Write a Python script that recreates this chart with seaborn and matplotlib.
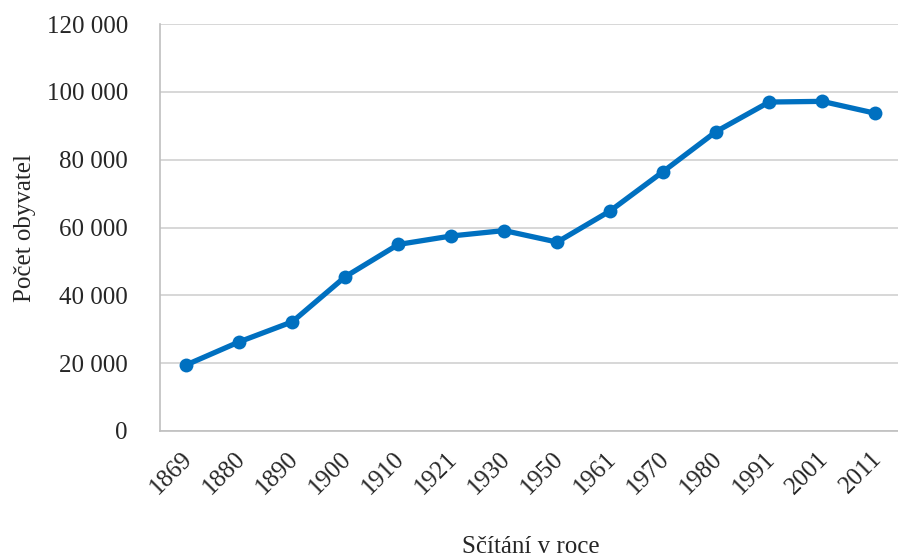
import pandas as pd
import matplotlib.pyplot as plt
import matplotlib.ticker as mticker
import matplotlib.transforms as mtransforms
import seaborn as sns

# Census years and population counts
years = ['1869', '1880', '1890', '1900', '1910', '1921', '1930',
         '1950', '1961', '1970', '1980', '1991', '2001', '2011']
population = [19500, 26300, 32200, 45500, 55000, 57500, 59100,
              55700, 64900, 76500, 88300, 97000, 97200, 93700]

df = pd.DataFrame({'Rok': years, 'Obyvatel': population})

sns.set_style('white')
plt.rcParams['font.family'] = ['Liberation Serif', 'DejaVu Serif']

fig = plt.figure(figsize=(8.98, 5.59), dpi=100)
ax = fig.add_axes([0.178, 0.229, 0.826, 0.728])

sns.lineplot(data=df, x='Rok', y='Obyvatel', sort=False, ax=ax,
             color='#0070C0', linewidth=3.8, marker='o',
             markersize=10, markeredgewidth=0)

# Axes styling
ax.set_ylim(0, 120000)
ax.set_xlim(-0.5, len(years) - 0.5)
ax.yaxis.set_major_locator(mticker.MultipleLocator(20000))
ax.yaxis.set_major_formatter(
    mticker.FuncFormatter(lambda v, p: f'{int(v):,}'.replace(',', ' ')))
ax.grid(axis='y', color='#D4D4D4', linewidth=1.3)
ax.set_axisbelow(True)

for side in ['top', 'right']:
    ax.spines[side].set_visible(False)
for side in ['left', 'bottom']:
    ax.spines[side].set_color('#BFBFBF')
    ax.spines[side].set_linewidth(1.2)

# Category boundary ticks like Excel
ax.set_xticks(range(len(years)))
ax.set_xticklabels(years, rotation=45, ha='right', rotation_mode='anchor')
ax.set_xticks([i - 0.5 for i in range(len(years) + 1)], minor=True)
ax.tick_params(axis='x', which='major', length=0, labelsize=18, pad=12)
ax.tick_params(axis='x', which='minor', length=6, color='#BFBFBF', width=1.2)
ax.tick_params(axis='y', length=0, labelsize=18, pad=23)

# nudge the rotated year labels a bit to the left
shift = mtransforms.ScaledTranslation(-5 / 100, 0, fig.dpi_scale_trans)
for lbl in ax.get_xticklabels():
    lbl.set_transform(lbl.get_transform() + shift)

ax.set_xlabel('Sčítání v roce', fontsize=18, labelpad=27)
ax.set_ylabel('Počet obyvatel', fontsize=18, labelpad=8)

plt.savefig('out.png', dpi=100)
